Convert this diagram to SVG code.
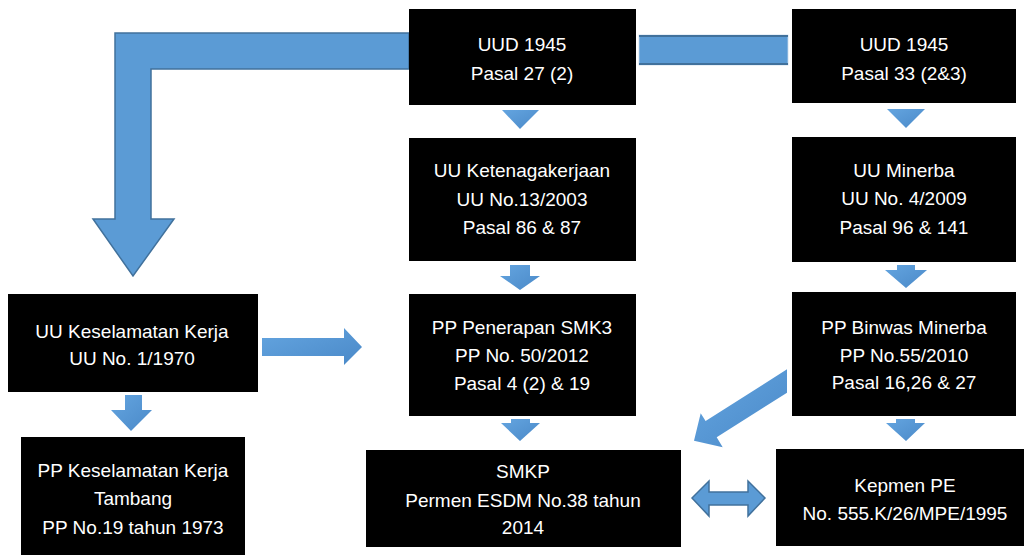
<svg xmlns="http://www.w3.org/2000/svg" width="1024" height="555" viewBox="0 0 1024 555">
<defs>
<style>
.box{fill:#000}
.t{fill:#fff;font-family:"Liberation Sans",Arial,sans-serif;font-size:19px;text-anchor:middle}
.arr{fill:url(#g)}
.big{fill:#5b9bd5;stroke:#41719c;stroke-width:1.5;stroke-linejoin:miter}
</style>
<linearGradient id="g" x1="0" y1="0" x2="1" y2="1">
<stop offset="0" stop-color="#64a5e0"/>
<stop offset="1" stop-color="#4a89c8"/>
</linearGradient>
</defs>
<rect width="1024" height="555" fill="#fff"/>
<g id="connectors">
<path class="big" d="M409,33 L115,33 L115,219 L93,219 L133,276 L174,219 L151,219 L151,69 L409,69 Z"/>
<rect x="639" y="35" width="149" height="30" fill="#5b9bd5" stroke="#c9d9ea" stroke-width="0.8"/>
<line x1="639" y1="36" x2="788" y2="36" stroke="#41719c" stroke-width="2"/>
<line x1="639" y1="64" x2="788" y2="64" stroke="#41719c" stroke-width="2"/>
<polygon class="arr" points="502,110 539,110 520,129"/>
<polygon class="arr" points="887,109 925,109 906,128"/>
<polygon class="arr" points="510,265 530,265 530,276 540,276 520,290 500,276 510,276"/>
<polygon class="arr" points="897,265 915,265 915,270 927,270 906,288 885,270 897,270"/>
<polygon class="arr" points="511,419 530,419 530,423 540,423 520,441 501,423 511,423"/>
<polygon class="arr" points="896,419 915,419 915,423 925,423 906,441 886,423 896,423"/>
<polygon class="arr" points="125,395 142,395 142,410 152,410 131,431 111,410 125,410"/>
<polygon class="arr" points="262,338 344,338 344,328 362,347 344,365 344,356 262,356"/>
<polygon class="arr" points="787,369.3 705.6,420.9 700.7,413.3 694,440.7 722.7,447.3 716.7,437.3 787,392.7"/>
<polygon class="big" points="692,498 709,481 709,492 748,492 748,481 765,498 748,516 748,505 709,505 709,516"/>
</g>
<g id="n-uud27">
<rect class="box" x="409" y="9" width="227" height="96"/>
<text class="t" x="522" y="51">UUD 1945</text>
<text class="t" x="522" y="80">Pasal 27 (2)</text>
</g>
<g id="n-uud33">
<rect class="box" x="792" y="9" width="224" height="94"/>
<text class="t" x="904" y="51">UUD 1945</text>
<text class="t" x="904" y="80">Pasal 33 (2&amp;3)</text>
</g>
<g id="n-uuketenagakerjaan">
<rect class="box" x="409" y="138" width="227" height="123"/>
<text class="t" x="522" y="177">UU Ketenagakerjaan</text>
<text class="t" x="522" y="206">UU No.13/2003</text>
<text class="t" x="522" y="234">Pasal 86 &amp; 87</text>
</g>
<g id="n-uuminerba">
<rect class="box" x="792" y="137" width="224" height="125"/>
<text class="t" x="904" y="177">UU Minerba</text>
<text class="t" x="904" y="205">UU No. 4/2009</text>
<text class="t" x="904" y="234">Pasal 96 &amp; 141</text>
</g>
<g id="n-uukeselamatan">
<rect class="box" x="8" y="294" width="250" height="98"/>
<text class="t" x="132" y="338">UU Keselamatan Kerja</text>
<text class="t" x="132" y="365">UU No. 1/1970</text>
</g>
<g id="n-ppsmk3">
<rect class="box" x="409" y="294" width="227" height="122"/>
<text class="t" x="522" y="334">PP Penerapan SMK3</text>
<text class="t" x="522" y="362">PP No. 50/2012</text>
<text class="t" x="522" y="390">Pasal 4 (2) &amp; 19</text>
</g>
<g id="n-ppbinwas">
<rect class="box" x="792" y="292" width="224" height="124"/>
<text class="t" x="904" y="334">PP Binwas Minerba</text>
<text class="t" x="904" y="362">PP No.55/2010</text>
<text class="t" x="904" y="389">Pasal 16,26 &amp; 27</text>
</g>
<g id="n-ppkeselamatan">
<rect class="box" x="21" y="437" width="224" height="118"/>
<text class="t" x="133" y="477">PP Keselamatan Kerja</text>
<text class="t" x="133" y="505">Tambang</text>
<text class="t" x="133" y="534">PP No.19 tahun 1973</text>
</g>
<g id="n-smkp">
<rect class="box" x="366" y="450" width="315" height="97"/>
<text class="t" x="523" y="478">SMKP</text>
<text class="t" x="523" y="507">Permen ESDM No.38 tahun</text>
<text class="t" x="523" y="534">2014</text>
</g>
<g id="n-kepmen">
<rect class="box" x="776" y="449" width="248" height="97"/>
<text class="t" x="905" y="492">Kepmen PE</text>
<text class="t" x="905" y="520">No. 555.K/26/MPE/1995</text>
</g>
</svg>
